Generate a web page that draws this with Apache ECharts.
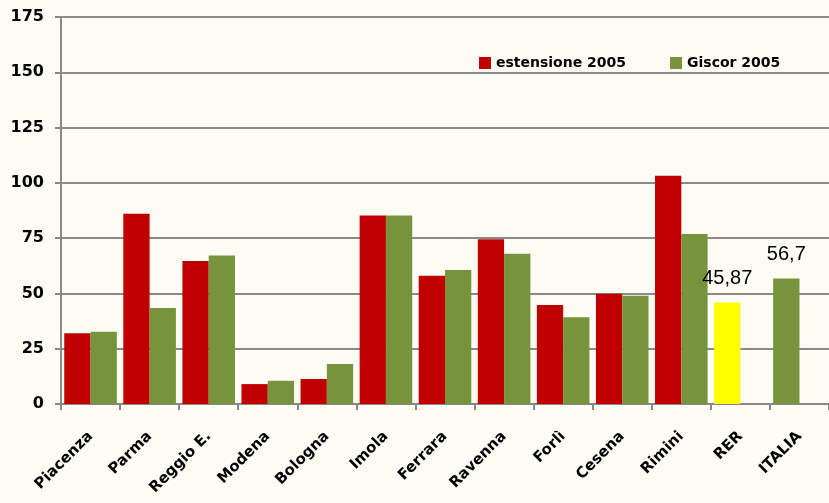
<!DOCTYPE html>
<html>
<head>
<meta charset="utf-8">
<script src="https://cdn.jsdelivr.net/npm/echarts@6/dist/echarts.min.js"></script>
<style>
  html, body { margin: 0; padding: 0; background: #fdfcf4; }
  #chart { width: 829px; height: 503px; }
</style>
</head>
<body>
<div id="chart"></div>
<script>
// dati
const categories = ["Piacenza", "Parma", "Reggio E.", "Modena", "Bologna", "Imola",
  "Ferrara", "Ravenna", "Forlì", "Cesena", "Rimini", "RER", "ITALIA"]
// nel grafico originale RER e ITALIA stanno nel primo slot della categoria
const estensione = [32, 86, 64.7, 9, 11.3, 85.2, 58, 74.5, 44.8, 49.8, 103.2, 45.87, 56.7]
const giscor = [32.7, 43.4, 67.1, 10.5, 18.1, 85.2, 60.6, 67.9, 39.2, 49, 76.9, null, null]
const yTicks = [0, 25, 50, 75, 100, 125, 150, 175]

const RED = "#c00000"
const GREEN = "#77933c"
const YELLOW = "#ffff00"

const chart = echarts.init(document.getElementById("chart"))

const valueLabel = {
  show: true,
  position: "top",
  distance: 14,
  color: "#000",
  fontFamily: "Liberation Sans",
  fontSize: 20,
  formatter: p => String(p.value).replace(".", ",")
}

const redData = estensione.map((v, i) => {
  if (v === null) return "-"
  if (categories[i] === "RER") {
    return { value: v, itemStyle: { color: YELLOW }, label: valueLabel }
  }
  if (categories[i] === "ITALIA") {
    return { value: v, itemStyle: { color: GREEN }, label: valueLabel }
  }
  return v
})
const greenData = giscor.map(v => (v === null ? "-" : v))

const options = {
  backgroundColor: "#fdfcf4",
  animation: false,
  grid: {
    left: 61,
    top: 17,
    width: 777,
    height: 387
  },
  legend: {
    left: 474,
    top: 51,
    icon: "rect",
    itemWidth: 12,
    itemHeight: 12,
    itemGap: 44,
    textStyle: {
      fontFamily: "DejaVu Sans",
      fontWeight: "bold",
      fontSize: 14,
      color: "#000"
    },
    data: ["estensione 2005", "Giscor 2005"]
  },
  xAxis: {
    type: "category",
    data: categories,
    axisLine: { lineStyle: { color: "#888", width: 2 } },
    axisTick: { show: true, length: 6, lineStyle: { color: "#888", width: 2 } },
    axisLabel: {
      rotate: 45,
      margin: 30,
      interval: 0,
      color: "#000",
      fontFamily: "DejaVu Sans",
      fontWeight: "bold",
      fontSize: 15
    }
  },
  yAxis: {
    type: "value",
    min: yTicks[0],
    max: yTicks[yTicks.length - 1],
    interval: 25,
    axisLine: { show: true, lineStyle: { color: "#888", width: 2 } },
    axisTick: { show: true, length: 6, lineStyle: { color: "#888", width: 2 } },
    splitLine: { lineStyle: { color: "#8a8a8a", width: 2 } },
    axisLabel: {
      margin: 17,
      color: "#000",
      fontFamily: "DejaVu Sans",
      fontWeight: "bold",
      fontSize: 16
    }
  },
  series: [
    {
      name: "estensione 2005",
      type: "bar",
      barGap: 0,
      barCategoryGap: "11%",
      itemStyle: { color: RED },
      data: redData
    },
    {
      name: "Giscor 2005",
      type: "bar",
      barGap: 0,
      barCategoryGap: "11%",
      itemStyle: { color: GREEN },
      data: greenData
    }
  ]
}

chart.setOption(options)
</script>
</body>
</html>
